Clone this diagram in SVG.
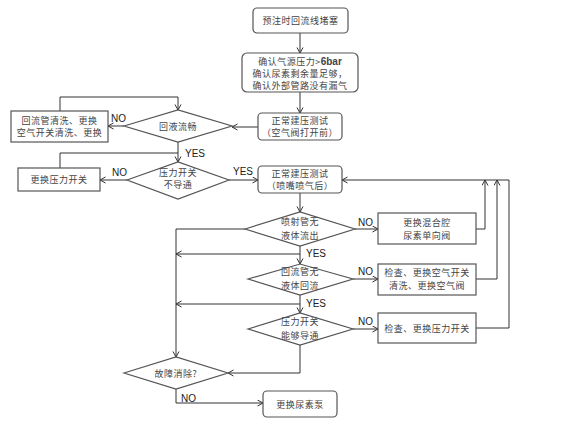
<svg xmlns="http://www.w3.org/2000/svg" width="584" height="424" viewBox="0 0 584 424">
<defs>
<marker id="ah" markerWidth="8" markerHeight="8" refX="6" refY="3.5" orient="auto" markerUnits="userSpaceOnUse">
<path d="M0.5,0.5 L6,3.5 L0.5,6.5" fill="none" stroke="#333" stroke-width="1"/>
</marker>
<style>
.bx{fill:#fff;stroke:#555;stroke-width:1.2}
.t{font-family:"Noto Sans CJK SC","Noto Sans",sans-serif;font-size:9px;letter-spacing:0.5px;fill:#444;text-anchor:middle}
.l{font-family:"Liberation Sans",Arial,sans-serif;font-size:10px;fill:#222}
.c{fill:none;stroke:#333;stroke-width:1}
</style>
</defs>
<rect width="584" height="424" fill="#fff"/>
<g id="connectors">
<path class="c" d="M300,33 V53" marker-end="url(#ah)"/>
<path class="c" d="M300,92 V113" marker-end="url(#ah)"/>
<path class="c" d="M258,127 H232" marker-end="url(#ah)"/>
<path class="c" d="M124,126 H108" marker-end="url(#ah)"/>
<path class="c" d="M60,111 V97 H178 V110" marker-end="url(#ah)"/>
<path class="c" d="M178,142 V162" marker-end="url(#ah)"/>
<path class="c" d="M60,168 V153 H178"/>
<path class="c" d="M127,180 H100" marker-end="url(#ah)"/>
<path class="c" d="M229,180 H258" marker-end="url(#ah)"/>
<path class="c" d="M300,193 V212" marker-end="url(#ah)"/>
<path class="c" d="M355,229 H378" marker-end="url(#ah)"/>
<path class="c" d="M476,229 H485 V180" marker-end="url(#ah)"/>
<path class="c" d="M476,279 H497 V180" marker-end="url(#ah)"/>
<path class="c" d="M476,328 H509 V180 H342" marker-end="url(#ah)"/>
<path class="c" d="M245,229 H176 V357" marker-end="url(#ah)"/>
<path class="c" d="M300,246 V264" marker-end="url(#ah)"/>
<path class="c" d="M300,254 H176" marker-end="url(#ah)"/>
<path class="c" d="M353,279 H378" marker-end="url(#ah)"/>
<path class="c" d="M300,295 V313" marker-end="url(#ah)"/>
<path class="c" d="M300,304 H176" marker-end="url(#ah)"/>
<path class="c" d="M353,329 H378" marker-end="url(#ah)"/>
<path class="c" d="M300,345 V373 H228" marker-end="url(#ah)"/>
<path class="c" d="M176,389 V403 H263" marker-end="url(#ah)"/>
<text class="l" x="111" y="122">NO</text>
<text class="l" x="185" y="157">YES</text>
<text class="l" x="112" y="176">NO</text>
<text class="l" x="233" y="175">YES</text>
<text class="l" x="358" y="226">NO</text>
<text class="l" x="306" y="257">YES</text>
<text class="l" x="358" y="275">NO</text>
<text class="l" x="306" y="307">YES</text>
<text class="l" x="358" y="325">NO</text>
<text class="l" x="181" y="402">NO</text>
</g>
<g id="n1"><rect class="bx" x="253" y="8" width="95" height="25" rx="4"/><text class="t" x="300.5" y="24">预注时回流线堵塞</text></g>
<g id="n2"><rect class="bx" x="242" y="53" width="116" height="39" rx="5"/>
<text class="t" x="300" y="65">确认气源压力&gt;<tspan font-family="Liberation Sans,Arial,sans-serif" font-weight="bold" font-size="10" letter-spacing="0">6bar</tspan></text>
<text class="t" x="300" y="77">确认尿素剩余量足够，</text>
<text class="t" x="300" y="89">确认外部管路没有漏气</text></g>
<g id="n3"><rect class="bx" x="258" y="113" width="84" height="27" rx="4"/><text class="t" x="300" y="124">正常建压测试</text><text class="t" x="300" y="136">（空气阀打开前）</text></g>
<g id="d1"><polygon class="bx" points="124,126 178,110 232,126 178,142"/><text class="t" x="178" y="129.5">回液流畅</text></g>
<g id="n4"><rect class="bx" x="11" y="111" width="97" height="31"/><text class="t" x="59.5" y="123.5">回流管清洗、更换</text><text class="t" x="59.5" y="136">空气开关清洗、更换</text></g>
<g id="d2"><polygon class="bx" points="127,180 178,162 229,180 178,199"/><text class="t" x="178" y="176">压力开关</text><text class="t" x="178" y="188">不导通</text></g>
<g id="n5"><rect class="bx" x="18" y="168" width="82" height="23"/><text class="t" x="59" y="183">更换压力开关</text></g>
<g id="n6"><rect class="bx" x="258" y="166" width="84" height="27" rx="4"/><text class="t" x="300" y="177">正常建压测试</text><text class="t" x="300" y="189">（喷嘴喷气后）</text></g>
<g id="d3"><polygon class="bx" points="245,229 300,212 355,229 300,246"/><text class="t" x="300" y="225">喷射管无</text><text class="t" x="300" y="239">液体流出</text></g>
<g id="n7"><rect class="bx" x="378" y="213" width="98" height="31"/><text class="t" x="427" y="226">更换混合腔</text><text class="t" x="427" y="239">尿素单向阀</text></g>
<g id="d4"><polygon class="bx" points="248,279 300,264 353,279 300,295"/><text class="t" x="300" y="275">回流管无</text><text class="t" x="300" y="289">液体回流</text></g>
<g id="n8"><rect class="bx" x="378" y="264" width="98" height="31"/><text class="t" x="427" y="276">检查、更换空气开关</text><text class="t" x="427" y="289">清洗、更换空气阀</text></g>
<g id="d5"><polygon class="bx" points="248,329 300,313 353,329 300,345"/><text class="t" x="300" y="325">压力开关</text><text class="t" x="300" y="339">能够导通</text></g>
<g id="n9"><rect class="bx" x="378" y="313" width="98" height="30"/><text class="t" x="427" y="332">检查、更换压力开关</text></g>
<g id="d6"><polygon class="bx" points="124,373 176,357 228,373 176,389"/><text class="t" x="176" y="376.5">故障消除?</text></g>
<g id="n10"><rect class="bx" x="263" y="391" width="74" height="26" rx="4"/><text class="t" x="300" y="407.5">更换尿素泵</text></g>
</svg>
